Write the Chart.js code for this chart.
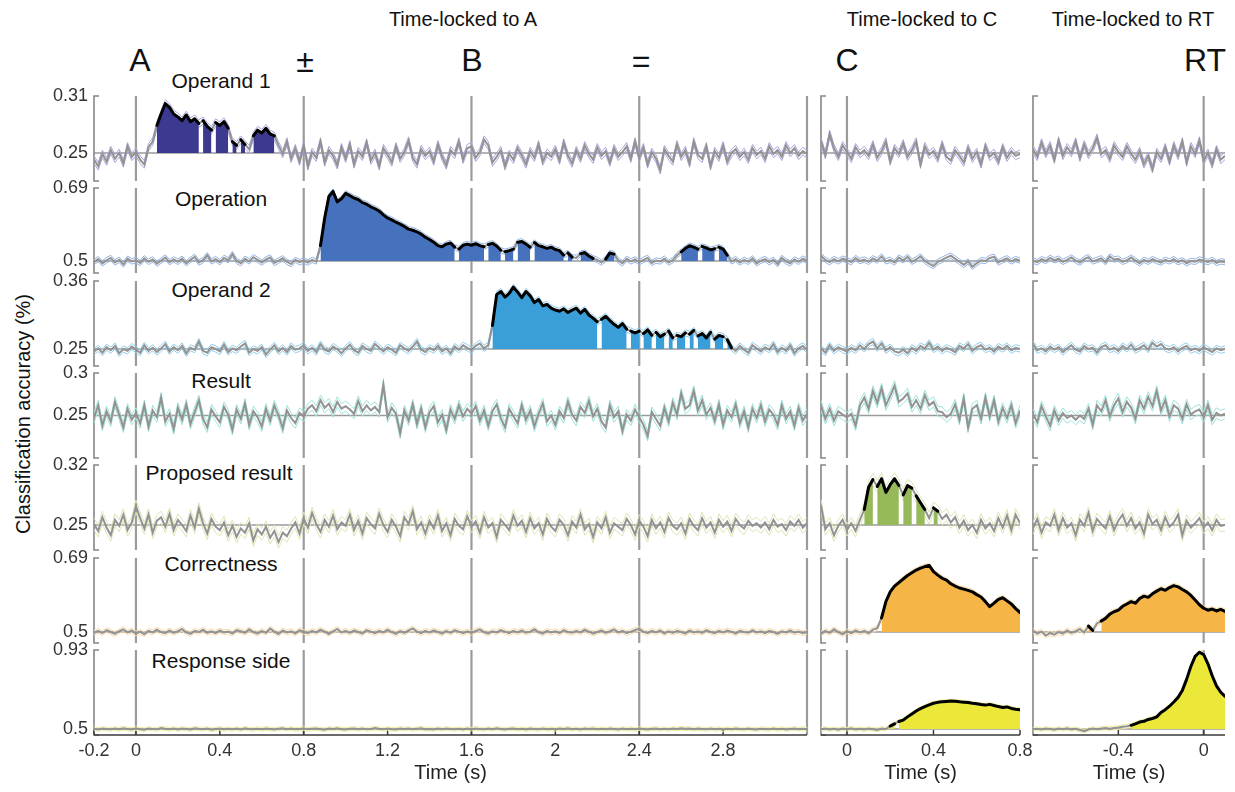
<!DOCTYPE html>
<html><head><meta charset="utf-8">
<script src="https://cdn.jsdelivr.net/npm/chart.js"></script>
<style>
body{margin:0;background:#fff;width:1235px;height:792px;overflow:hidden;position:relative;font-family:"Liberation Sans",Arial,Helvetica,sans-serif;}
canvas{position:absolute;}
.t{position:absolute;white-space:nowrap;transform:translate(-50%,-50%);color:#111;line-height:1;}
.ttl{font-size:20px;}
.ev{font-size:32px;}
.rw{font-size:21px;}
</style></head><body>
<div class="t ttl" style="left:463px;top:19px">Time-locked to A</div>
<div class="t ttl" style="left:922px;top:19px">Time-locked to C</div>
<div class="t ttl" style="left:1133px;top:19px">Time-locked to RT</div>
<div class="t ev" style="left:140px;top:60px">A</div>
<div class="t ev" style="left:305px;top:61px">±</div>
<div class="t ev" style="left:472px;top:60px">B</div>
<div class="t ev" style="left:641px;top:61px">=</div>
<div class="t ev" style="left:847px;top:60px">C</div>
<div class="t ev" style="left:1205px;top:60px">RT</div>
<div class="t" style="left:23px;top:414px;font-size:20px;transform:translate(-50%,-50%) rotate(-90deg)">Classification accuracy (%)</div>
<div id="rowTitles"></div>
<script>
// ---------------- DATA ----------------
const TIME_STEP = 0.02;               // seconds between samples
const rowNames = ['Operand 1','Operation','Operand 2','Result','Proposed result','Correctness','Response side'];
const chanceLevels = [0.25, 0.5, 0.25, 0.25, 0.25, 0.5, 0.5];   // lower y tick label
const yTopTicks   = [0.31, 0.69, 0.36, 0.3, 0.32, 0.69, 0.93];  // upper y tick label
const yAxisMin    = [0.2205, 0.4688, 0.2225, 0.2, 0.2208, 0.4718, 0.4673];
const ciHalfWidth = [0.004, 0.007, 0.005, 0.006, 0.007, 0.006, 0.01];
const ticksA = [-0.2, 0, 0.4, 0.8, 1.2, 1.6, 2, 2.4, 2.8];
const ticksC = [0, 0.4, 0.8];
const ticksRT = [-0.4, 0];
const eventsA = [0, 0.8, 1.6, 2.4, 3.2];
const eventsC = [0];
const eventsRT = [0];

// Time-locked to A: samples from -0.2 s to 3.2 s
const operand1_A = [.243,.236,.249,.241,.253,.244,.250,.239,.257,.246,
 .251,.243,.238,.256,.262,.279,.291,.302,.298,.291,
 .288,.284,.290,.283,.286,.281,.284,.278,.274,.282,
 .279,.283,.276,.262,.258,.264,.259,.254,.268,.274,
 .271,.276,.270,.268,.258,.249,.262,.244,.255,.241,
 .258,.236,.251,.245,.262,.240,.253,.247,.237,.256,
 .244,.259,.238,.252,.246,.261,.242,.250,.236,.255,
 .248,.240,.257,.244,.251,.263,.245,.238,.254,.247,
 .252,.241,.259,.246,.237,.253,.248,.262,.243,.255,
 .257,.245,.251,.264,.258,.240,.246,.253,.236,.249,
 .243,.255,.247,.238,.252,.245,.259,.241,.250,.246,
 .254,.242,.261,.247,.239,.253,.244,.258,.249,.243,
 .256,.247,.252,.240,.255,.246,.251,.257,.244,.262,
 .245,.256,.238,.251,.244,.232,.254,.247,.241,.259,
 .246,.253,.239,.262,.248,.244,.257,.236,.252,.245,
 .258,.241,.250,.254,.246,.251,.243,.255,.248,.252,
 .244,.257,.249,.253,.246,.258,.250,.255,.247,.252,.249];
const operation_A = [.497,.505,.494,.502,.508,.496,.503,.491,.506,.499,
 .502,.495,.507,.498,.504,.493,.501,.509,.497,.504,
 .498,.506,.494,.503,.511,.496,.502,.515,.499,.505,
 .497,.508,.502,.518,.500,.494,.506,.499,.510,.503,
 .496,.504,.509,.495,.501,.507,.498,.492,.503,.497,
 .501,.496,.503,.499,.540,.612,.668,.681,.654,.662,
 .676,.670,.664,.660,.652,.648,.641,.636,.630,.620,
 .612,.607,.601,.596,.590,.583,.580,.576,.570,.562,
 .556,.549,.540,.537,.544,.547,.536,.531,.541,.544,
 .541,.545,.540,.537,.543,.546,.539,.528,.524,.527,
 .531,.549,.551,.544,.536,.548,.540,.537,.533,.536,
 .530,.527,.515,.521,.510,.508,.519,.522,.513,.507,
 .503,.496,.505,.521,.518,.501,.494,.506,.499,.504,
 .497,.503,.508,.495,.501,.499,.506,.496,.502,.515,
 .524,.533,.540,.536,.531,.538,.534,.529,.532,.536,
 .531,.515,.499,.505,.496,.503,.498,.507,.494,.501,
 .505,.497,.503,.492,.508,.499,.494,.504,.498,.506,.501];
const operand2_A = [.246,.251,.244,.253,.248,.255,.243,.250,.247,.254,
 .249,.244,.256,.247,.252,.245,.251,.258,.246,.253,
 .248,.255,.243,.252,.249,.262,.247,.244,.253,.250,
 .246,.257,.245,.251,.248,.254,.259,.244,.250,.247,
 .253,.241,.249,.256,.246,.252,.245,.255,.249,.251,
 .256,.247,.252,.245,.258,.249,.246,.254,.250,.243,
 .251,.257,.248,.244,.255,.250,.247,.258,.252,.246,
 .253,.249,.244,.256,.251,.247,.254,.262,.249,.245,
 .252,.248,.255,.246,.251,.243,.254,.249,.256,.252,
 .248,.255,.259,.251,.256,.288,.338,.343,.334,.340,
 .350,.342,.333,.343,.336,.325,.330,.320,.322,.316,
 .313,.311,.315,.309,.313,.316,.308,.314,.305,.300,
 .294,.298,.303,.296,.290,.285,.291,.282,.279,.276,
 .279,.275,.281,.272,.277,.270,.274,.279,.268,.272,
 .270,.276,.274,.280,.271,.275,.268,.277,.266,.272,
 .270,.265,.252,.247,.255,.249,.244,.256,.251,.246,
 .253,.249,.258,.245,.252,.247,.256,.243,.251,.255,.249];
const result_A = [.247,.262,.238,.255,.243,.266,.251,.236,.258,.245,
 .253,.241,.262,.237,.256,.248,.271,.243,.252,.234,
 .259,.245,.263,.240,.254,.268,.246,.236,.257,.249,
 .242,.260,.251,.233,.257,.246,.264,.239,.255,.248,
 .237,.258,.244,.262,.250,.235,.256,.247,.241,.253,
 .249,.258,.262,.255,.268,.259,.264,.254,.266,.258,
 .261,.257,.252,.267,.255,.262,.256,.260,.254,.286,
 .248,.259,.252,.229,.256,.244,.263,.240,.258,.236,
 .254,.261,.242,.251,.233,.257,.246,.262,.249,.258,
 .252,.261,.244,.256,.238,.255,.263,.247,.236,.258,
 .249,.241,.262,.245,.256,.237,.252,.264,.243,.250,
 .239,.255,.247,.266,.251,.244,.260,.253,.267,.249,
 .258,.243,.236,.262,.248,.255,.232,.251,.244,.257,
 .248,.239,.226,.254,.246,.238,.259,.243,.265,.251,
 .276,.258,.262,.279,.256,.268,.251,.259,.244,.263,
 .239,.256,.248,.263,.241,.255,.236,.258,.247,.262,
 .243,.257,.251,.239,.262,.246,.255,.238,.259,.244,.252];
const proposed_A = [.251,.243,.259,.247,.238,.256,.249,.262,.244,.253,
 .272,.258,.246,.262,.241,.255,.259,.248,.263,.244,
 .256,.250,.243,.261,.247,.269,.252,.240,.257,.248,
 .244,.253,.238,.249,.236,.246,.241,.252,.232,.245,
 .239,.248,.235,.243,.230,.241,.237,.246,.253,.240,
 .258,.247,.264,.251,.242,.256,.248,.261,.245,.253,
 .249,.262,.244,.255,.240,.258,.251,.246,.263,.250,
 .242,.256,.248,.237,.259,.251,.266,.245,.253,.240,
 .255,.246,.261,.243,.252,.238,.257,.249,.245,.260,
 .248,.254,.241,.259,.247,.252,.236,.256,.250,.244,
 .261,.249,.255,.242,.258,.246,.252,.239,.257,.248,
 .243,.256,.250,.238,.254,.247,.262,.245,.251,.236,
 .253,.246,.259,.241,.252,.248,.244,.257,.250,.239,
 .255,.248,.237,.256,.246,.253,.242,.258,.249,.245,
 .252,.240,.257,.249,.244,.258,.247,.253,.241,.256,
 .248,.254,.243,.257,.250,.246,.255,.249,.252,.247,
 .253,.245,.256,.248,.251,.244,.254,.249,.256,.247,.252];
const correctness_A = [.498,.503,.497,.505,.500,.495,.502,.507,.499,.504,
 .496,.501,.494,.503,.499,.506,.500,.497,.504,.498,
 .502,.508,.499,.495,.503,.500,.506,.498,.502,.497,
 .504,.499,.501,.496,.505,.502,.498,.507,.500,.496,
 .503,.498,.509,.501,.495,.504,.499,.502,.496,.505,
 .500,.497,.503,.499,.506,.501,.495,.502,.508,.499,
 .503,.498,.504,.500,.496,.505,.501,.497,.503,.499,
 .506,.500,.495,.502,.498,.504,.509,.501,.497,.503,
 .499,.504,.500,.496,.503,.498,.505,.501,.497,.502,
 .498,.503,.507,.500,.496,.502,.499,.505,.501,.497,
 .503,.499,.504,.498,.501,.507,.500,.496,.503,.499,
 .502,.497,.505,.500,.498,.503,.499,.506,.501,.496,
 .500,.504,.498,.502,.507,.499,.503,.497,.501,.505,
 .508,.501,.497,.503,.499,.504,.496,.502,.498,.503,
 .500,.496,.504,.499,.502,.498,.505,.500,.497,.503,
 .499,.504,.501,.496,.503,.500,.498,.505,.499,.502,
 .497,.503,.500,.495,.502,.499,.504,.498,.501,.497,.500];
const response_A = [.501,.497,.503,.500,.498,.502,.499,.504,.500,.497,
 .502,.499,.496,.503,.500,.498,.505,.501,.499,.502,
 .498,.503,.500,.497,.504,.501,.499,.502,.496,.500,
 .503,.499,.501,.498,.502,.497,.504,.500,.498,.501,
 .499,.503,.500,.497,.501,.504,.499,.502,.498,.500,
 .502,.498,.501,.503,.499,.496,.502,.500,.504,.499,
 .497,.501,.503,.499,.502,.498,.500,.505,.501,.498,
 .502,.499,.497,.503,.500,.502,.498,.501,.504,.499,
 .500,.497,.502,.499,.503,.500,.498,.501,.497,.502,
 .499,.503,.500,.498,.502,.499,.504,.500,.497,.501,
 .503,.499,.501,.497,.502,.500,.498,.503,.499,.501,
 .498,.502,.500,.504,.499,.501,.497,.502,.500,.503,
 .499,.501,.498,.502,.500,.497,.503,.499,.501,.498,
 .502,.500,.497,.501,.503,.499,.501,.498,.502,.500,
 .504,.501,.503,.499,.502,.500,.498,.502,.499,.501,
 .497,.501,.499,.503,.500,.498,.502,.499,.497,.501,
 .500,.498,.502,.499,.501,.497,.500,.503,.499,.501,.498];

// Time-locked to C: samples from -0.12 s to 0.8 s
const operand1_C = [.262,.248,.270,.255,.246,.258,.251,.244,.256,.249,
 .253,.247,.259,.245,.252,.262,.241,.255,.249,.260,
 .246,.253,.262,.238,.257,.248,.252,.244,.259,.246,
 .242,.253,.247,.240,.255,.244,.251,.238,.257,.246,
 .250,.241,.256,.245,.252,.247,.249];
const operation_C = [.514,.503,.497,.505,.499,.506,.502,.497,.508,.500,
 .504,.498,.507,.501,.512,.499,.503,.496,.509,.502,
 .511,.498,.504,.512,.500,.493,.487,.498,.503,.509,
 .514,.506,.498,.490,.499,.485,.494,.502,.500,.508,
 .511,.496,.502,.507,.499,.505,.501];
const operand2_C = [.251,.244,.256,.247,.253,.249,.246,.252,.248,.256,
 .250,.258,.262,.251,.259,.248,.253,.246,.244,.249,
 .243,.252,.247,.255,.251,.260,.249,.254,.247,.252,
 .249,.245,.255,.251,.258,.247,.253,.256,.249,.252,
 .246,.254,.250,.255,.248,.252,.250];
const result_C = [.262,.246,.258,.244,.255,.251,.248,.252,.238,.262,
 .271,.258,.279,.265,.282,.262,.273,.285,.266,.270,
 .276,.260,.268,.258,.274,.262,.266,.255,.254,.248,
 .252,.263,.245,.270,.236,.258,.262,.246,.271,.249,
 .268,.243,.259,.247,.262,.241,.256];
const proposed_C = [.273,.245,.252,.238,.249,.256,.244,.252,.243,.256,
 .268,.294,.303,.295,.304,.288,.297,.304,.296,.285,
 .296,.293,.284,.276,.268,.258,.270,.266,.257,.262,
 .253,.259,.247,.255,.244,.250,.241,.256,.246,.252,
 .243,.258,.247,.261,.244,.262,.252];
const correctness_C = [.495,.503,.498,.507,.500,.494,.502,.497,.504,.499,
 .503,.497,.506,.510,.536,.578,.603,.618,.627,.636,
 .645,.652,.659,.664,.668,.671,.655,.646,.638,.633,
 .624,.618,.613,.610,.607,.603,.596,.590,.578,.565,
 .574,.584,.588,.580,.572,.560,.550];
const response_C = [.499,.503,.497,.501,.496,.502,.499,.504,.498,.501,
 .497,.502,.499,.495,.503,.500,.516,.528,.541,.548,
 .566,.582,.598,.611,.622,.631,.640,.645,.648,.650,
 .652,.651,.648,.646,.644,.640,.637,.633,.630,.634,
 .628,.622,.617,.620,.612,.608,.605];

// Time-locked to RT: samples from -0.8 s to 0.1 s
const operand1_RT = [.254,.246,.261,.249,.258,.243,.263,.247,.256,.250,
 .262,.245,.259,.248,.255,.266,.249,.253,.244,.258,
 .251,.246,.257,.249,.243,.252,.238,.247,.233,.251,
 .244,.256,.241,.258,.247,.262,.240,.257,.249,.263,
 .242,.250,.238,.254,.243,.247];
const operation_RT = [.501,.497,.505,.500,.508,.502,.506,.498,.503,.509,
 .501,.496,.505,.510,.499,.503,.507,.497,.512,.504,
 .506,.498,.502,.509,.501,.494,.503,.498,.505,.500,
 .496,.503,.499,.505,.497,.502,.494,.500,.498,.504,
 .501,.497,.503,.495,.499,.497];
const operand2_RT = [.258,.248,.251,.246,.254,.249,.253,.245,.251,.256,
 .249,.246,.255,.250,.252,.244,.253,.256,.249,.252,
 .247,.255,.250,.257,.248,.252,.256,.249,.260,.254,
 .258,.251,.249,.253,.246,.252,.255,.248,.251,.247,
 .253,.249,.245,.251,.248,.250];
const result_RT = [.252,.242,.261,.249,.238,.256,.244,.253,.247,.250,
 .245,.250,.246,.258,.239,.262,.255,.268,.249,.262,
 .270,.254,.266,.259,.246,.268,.258,.272,.261,.279,
 .256,.268,.249,.262,.258,.246,.263,.251,.255,.257,
 .248,.262,.245,.253,.250,.252];
const proposed_RT = [.246,.257,.241,.253,.249,.262,.244,.258,.247,.252,
 .238,.256,.249,.264,.243,.257,.251,.246,.260,.244,
 .255,.262,.249,.258,.246,.253,.240,.262,.251,.256,
 .244,.259,.248,.253,.262,.238,.255,.247,.252,.258,
 .247,.253,.244,.256,.249,.250];
const correctness_RT = [.503,.496,.501,.491,.497,.493,.500,.496,.504,.498,
 .502,.508,.499,.515,.504,.522,.528,.535,.546,.552,
 .556,.566,.572,.578,.574,.586,.592,.589,.598,.605,
 .611,.607,.614,.619,.616,.609,.603,.594,.582,.570,
 .561,.556,.559,.554,.558,.553];
const response_RT = [.499,.501,.497,.503,.500,.496,.502,.499,.504,.498,
 .501,.494,.488,.497,.502,.499,.503,.505,.502,.506,
 .508,.512,.515,.520,.528,.538,.542,.552,.557,.566,
 .590,.605,.624,.647,.672,.710,.770,.840,.895,.918,
 .905,.855,.790,.735,.700,.678];

// Significant (shaded, black-outlined) time windows [start, end] in seconds
const operand1_A_sig = [[0.10,0.30],[0.32,0.36],[0.38,0.44],[0.46,0.48],[0.50,0.52],[0.56,0.66]];
const operation_A_sig = [[0.88,1.52],[1.54,1.66],[1.68,1.74],[1.76,1.80],[1.82,1.88],[1.90,2.04],[2.06,2.08],[2.12,2.18],[2.24,2.28],[2.60,2.68],[2.70,2.76],[2.78,2.82]];
const operand2_A_sig = [[1.70,2.20],[2.22,2.34],[2.36,2.40],[2.42,2.46],[2.48,2.52],[2.54,2.56],[2.58,2.62],[2.64,2.66],[2.68,2.74],[2.76,2.80],[2.82,2.84]];
const proposed_C_sig = [[0.08,0.12],[0.14,0.24],[0.26,0.30],[0.32,0.36],[0.40,0.42]];
const correctness_C_sig = [[0.16,0.80]];
const response_C_sig = [[0.20,0.22],[0.24,0.80]];
const correctness_RT_sig = [[-0.54,-0.52],[-0.48,0.10]];
const response_RT_sig = [[-0.34,0.10]];

// ---------------- STYLE / LAYOUT ----------------
const fillColors = ['#3b3990','#4672bd','#3a9fd8','#3cc0b8','#98b95a','#f6b547','#ece83a'];
const ciColors   = ['#aaa6dd','#93b3e3','#90cdea','#9ee3dc','#d9e7b4','#f7d9a6','#efed9c'];
const FONT = '"Liberation Sans", Arial, Helvetica, sans-serif';
const ROW_TOPS = [96, 188, 281, 373, 465, 558, 650];
const ROW_H = 85;
const COLS = [
  {start:-0.2,  min:-0.2,  max:3.2, left:94,   right:807,  events:eventsA,  ticks:ticksA,
   series:[operand1_A,operation_A,operand2_A,result_A,proposed_A,correctness_A,response_A],
   sig:[operand1_A_sig,operation_A_sig,operand2_A_sig,[],[],[],[]]},
  {start:-0.12, min:-0.12, max:0.8, left:821,  right:1020, events:eventsC,  ticks:ticksC,
   series:[operand1_C,operation_C,operand2_C,result_C,proposed_C,correctness_C,response_C],
   sig:[[],[],[],[],proposed_C_sig,correctness_C_sig,response_C_sig]},
  {start:-0.8,  min:-0.8,  max:0.1, left:1033, right:1225, events:eventsRT, ticks:ticksRT,
   series:[operand1_RT,operation_RT,operand2_RT,result_RT,proposed_RT,correctness_RT,response_RT],
   sig:[[],[],[],[],[],correctness_RT_sig,response_RT_sig]}
];
const ROW_TITLE_POS = [[221,80],[221,198],[221,289],[221,380],[219,472],[221,563],[221,660]];

// Row titles
const rt = document.getElementById('rowTitles');
rowNames.forEach((n,i)=>{
  const d=document.createElement('div'); d.className='t rw'; d.textContent=n;
  d.style.left=ROW_TITLE_POS[i][0]+'px'; d.style.top=ROW_TITLE_POS[i][1]+'px'; rt.appendChild(d);
});

function buildPanel(ci, ri){
  const col = COLS[ci];
  const vals = col.series[ri];
  const sig = col.sig[ri];
  const chance = chanceLevels[ri];
  const isBottom = ri === ROW_TOPS.length-1, isLeft = ci === 0;
  const padTop = 26, padBottom = isBottom ? 0 : 26, padR = 16, padL = isLeft ? 0 : 8;
  const xAxisH = isBottom ? 50 : 0;
  const cLeft = isLeft ? 0 : col.left - padL;
  const W = col.right + padR - cLeft;
  const H = padTop + ROW_H + padBottom + xAxisH;
  const cv = document.createElement('canvas');
  cv.width = W; cv.height = H;
  cv.style.left = cLeft+'px'; cv.style.top = (ROW_TOPS[ri]-padTop)+'px';
  cv.style.width = W+'px'; cv.style.height = H+'px';
  document.body.appendChild(cv);

  const tAt = i => +(col.start + i*TIME_STEP).toFixed(4);
  const mean = vals.map((v,i)=>({x:tAt(i), y:v}));
  const upper = vals.map((v,i)=>({x:tAt(i), y:v+ciHalfWidth[ri]}));
  const lower = vals.map((v,i)=>({x:tAt(i), y:v-ciHalfWidth[ri]}));
  const inSig = s => { const m=(tAt(s.p0DataIndex)+tAt(s.p1DataIndex))/2; return sig.some(([a,b])=>m>a-1e-6 && m<b+1e-6); };
  const CLEAR = 'rgba(0,0,0,0)';

  const xScale = {type:'linear', min:col.min, max:col.max, display:isBottom,
    afterBuildTicks: ax => { ax.ticks = col.ticks.map(v=>({value:v})); },
    grid:{display:false, drawTicks:false}, border:{display:false},
    ticks:{font:{size:18, family:FONT}, color:'#333', padding:5, maxRotation:0, minRotation:0, autoSkip:false, callback:v=>String(v)},
    title:{display:true, text:'Time (s)', font:{size:20, family:FONT}, color:'#222', padding:{top:0,bottom:0}}};
  if (isBottom) xScale.afterFit = ax => { ax.height = xAxisH; ax.paddingLeft = 0; ax.paddingRight = 0; };
  const yScale = {type:'linear', min:yAxisMin[ri], max:yTopTicks[ri], display:isLeft,
    afterBuildTicks: ax => { ax.ticks = [{value:chance},{value:yTopTicks[ri]}]; },
    grid:{display:false, drawTicks:false}, border:{display:false},
    ticks:{font:{size:18, family:FONT}, color:'#333', padding:6, autoSkip:false, callback:v=>String(v)}};
  if (isLeft) yScale.afterFit = ax => { ax.width = col.left; ax.paddingTop = 0; ax.paddingBottom = 0; };

  const decor = {
    id:'decor',
    beforeDatasetsDraw(chart){
      const {ctx, chartArea:a, scales:{x,y}} = chart;
      ctx.save();
      const seg=(x0,y0,x1,y1)=>{ctx.beginPath();ctx.moveTo(x0,y0);ctx.lineTo(x1,y1);ctx.stroke();};
      ctx.strokeStyle='#9a9a9a'; ctx.lineWidth=1.5;
      const yc=y.getPixelForValue(chance); seg(a.left,yc,a.right,yc);
      ctx.strokeStyle='#9b9b9b'; ctx.lineWidth=2.2;
      col.events.forEach(e=>{const px=x.getPixelForValue(e); seg(px,a.top,px,a.bottom);});
      ctx.strokeStyle='#858585'; ctx.lineWidth=1.6;
      ctx.beginPath(); ctx.moveTo(a.left+5,a.top); ctx.lineTo(a.left,a.top); ctx.lineTo(a.left,a.bottom); ctx.lineTo(a.left+5,a.bottom); ctx.stroke();
      if (isBottom){
        ctx.strokeStyle='#3a3a3a'; ctx.lineWidth=1.5;
        seg(a.left,a.bottom,a.right,a.bottom);
        col.ticks.forEach(v=>{const px=x.getPixelForValue(v); seg(px,a.bottom,px,a.bottom-5);});
      }
      ctx.restore();
    }
  };

  new Chart(cv, {
    type:'line',
    data:{datasets:[
      {data:mean, borderWidth:3, borderColor:CLEAR, backgroundColor:CLEAR, fill:{value:chance}, pointRadius:0,
       borderCapStyle:'round', borderJoinStyle:'round',
       segment:{borderColor:s=>inSig(s)?'#000':CLEAR, backgroundColor:s=>inSig(s)?fillColors[ri]:CLEAR}},
      {data:mean, borderWidth:2, borderColor:'#929292', pointRadius:0, fill:false},
      {data:upper, borderWidth:1, borderColor:ciColors[ri], pointRadius:0, fill:false},
      {data:lower, borderWidth:1, borderColor:ciColors[ri], pointRadius:0, fill:false}
    ]},
    options:{
      responsive:false, animation:false, devicePixelRatio:1, events:[],
      layout:{padding:{top:padTop, bottom:padBottom, left:padL, right:padR}},
      plugins:{legend:{display:false}, tooltip:{enabled:false}},
      scales:{x:xScale, y:yScale}
    },
    plugins:[decor]
  });
}

for (let ci=0; ci<COLS.length; ci++) for (let ri=0; ri<ROW_TOPS.length; ri++) buildPanel(ci, ri);
</script>
</body></html>
